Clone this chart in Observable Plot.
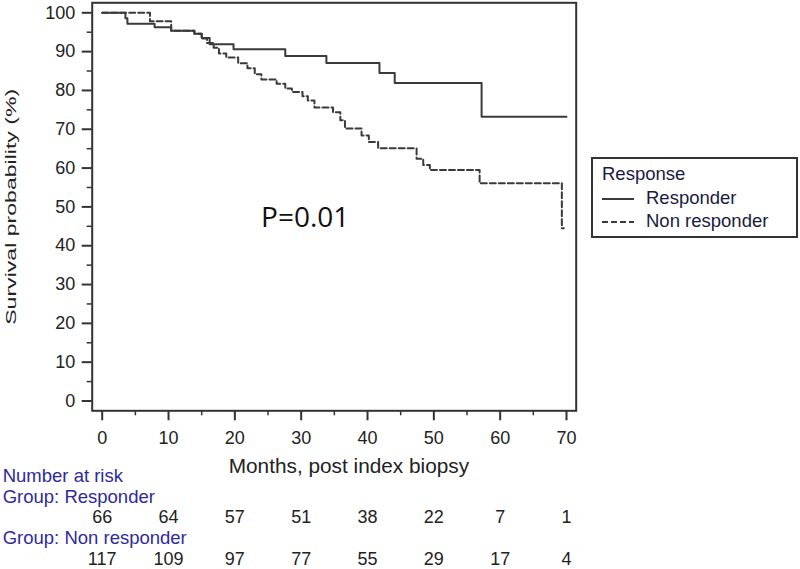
<!DOCTYPE html>
<html>
<head>
<meta charset="utf-8">
<script src="https://cdn.jsdelivr.net/npm/d3@7"></script>
<script src="https://cdn.jsdelivr.net/npm/@observablehq/plot@0.6"></script>
<style>
  html, body { margin: 0; padding: 0; background: #fff; }
  #wrap { position: relative; width: 800px; height: 569px; overflow: hidden; font-family: "Liberation Sans", Arial, sans-serif; }
  #legend { position: absolute; left: 591px; top: 157px; width: 203px; height: 77px; border: 2px solid #333; background: #fff; color: #1a1a40; font-size: 18.5px; }
  #legend .row { position: absolute; left: 9px; white-space: nowrap; line-height: 20px; }
  #legend svg { vertical-align: middle; margin-right: 12px; }
</style>
</head>
<body>
<div id="wrap"></div>
<script>
// ---- data ----
const riskTimes = [0, 10, 20, 30, 40, 50, 60, 70];
const riskResponder = [66, 64, 57, 51, 38, 22, 7, 1];
const riskNonResponder = [117, 109, 97, 77, 55, 29, 17, 4];

const respTime = [0, 3.5, 3.8, 7.9, 10.4, 13.9, 15.0, 16.2, 19.8, 27.6, 33.8, 41.8, 44.1, 57.2, 70];
const respSurv = [100, 98.6, 97.2, 96.3, 95.4, 94.6, 93.5, 91.9, 90.6, 88.9, 87.1, 84.5, 81.9, 73.2, 73.2];

const nonTime = [0, 7.2, 10.4, 13.9, 15.0, 15.8, 16.8, 17.6, 18.7, 20.5, 21.9, 23.0, 24.0, 26.3, 27.6, 28.6, 30.2, 31.0, 32.0, 34.8, 35.9, 36.6, 39.1, 40.2, 41.6, 47.4, 48.4, 49.4, 56.9, 69.3, 69.6];
const nonSurv = [100, 97.8, 95.4, 94.6, 93.4, 92.2, 91.0, 89.5, 88.5, 87.0, 85.7, 84.2, 82.8, 81.7, 80.5, 79.6, 78.5, 77.4, 75.6, 74.4, 72.3, 70.2, 68.4, 66.7, 65.1, 62.4, 60.8, 59.5, 56.1, 44.5, 44.5];

const yTicks = [0, 10, 20, 30, 40, 50, 60, 70, 80, 90, 100];
const yMinor = [5, 15, 25, 35, 45, 55, 65, 75, 85, 95];
const xMinor = [5, 15, 25, 35, 45, 55, 65];

const xLabel = "Months, post index biopsy";
const yLabel = "Survival probability (%)";
const pValue = "P=0.01";
const pValuePos = {x: 30.6, y: 47.2};
const riskRows = ["Number at risk", "Group: Responder", "Group: Non responder"];

// ---- build ----
const resp = respTime.map((t, i) => ({t, s: respSurv[i]}));
const non = nonTime.map((t, i) => ({t, s: nonSurv[i]}));
const ink = "#333";
const txt = "#222";
const blue = "#2e2a9c";
const rowGap = 20.6;
const firstRow = 65.7;
const riskFont = 18.5;

const labelMark = (i, dy) => Plot.text(riskRows, {
  filter: (d, j) => j === i,
  frameAnchor: "bottom-left", dx: -89.5, dy,
  text: d => d, textAnchor: "start", lineAnchor: "middle",
  fontSize: riskFont, fill: blue
});
const countMark = (values, dy) => Plot.text(riskTimes, {
  x: d => d, frameAnchor: "bottom", dy,
  text: (d, i) => values[i], lineAnchor: "middle",
  fontSize: 18, fill: txt
});

const chart = Plot.plot({
  width: 800,
  height: 569,
  marginLeft: 91.7,
  marginRight: 224.3,
  marginTop: 2.3,
  marginBottom: 158.7,
  insetLeft: 10,
  insetRight: 9.7,
  insetTop: 10,
  insetBottom: 9.8,
  style: {fontFamily: "'Liberation Sans', Arial, sans-serif", background: "#fff", overflow: "visible"},
  x: {domain: [0, 70]},
  y: {domain: [0, 100]},
  marks: [
    Plot.axisY({ticks: yTicks, tickSize: 10, tickPadding: 7, tickFormat: d => d, label: null, fontSize: 18, stroke: ink, strokeWidth: 2, color: txt}),
    Plot.axisY({ticks: yMinor, tickSize: 5, text: null, label: null, stroke: ink, strokeWidth: 1.5}),
    Plot.axisX({ticks: riskTimes, tickSize: 10, tickPadding: 10, tickFormat: d => d, label: null, fontSize: 18, stroke: ink, strokeWidth: 2, color: txt}),
    Plot.axisX({ticks: xMinor, tickSize: 5, text: null, label: null, stroke: ink, strokeWidth: 1.5}),
    Plot.line(resp, {x: "t", y: "s", curve: "step-after", stroke: "#3a3a3a", strokeWidth: 2}),
    Plot.line(non, {x: "t", y: "s", curve: "step-after", stroke: "#3a3a3a", strokeWidth: 2, strokeDasharray: "6,3"}),
    Plot.frame({stroke: ink, strokeWidth: 2}),
    Plot.text([pValue], {x: () => pValuePos.x, y: () => pValuePos.y, text: d => d, fontSize: 28, fontFamily: "'Open Sans', sans-serif", fill: "#111", textAnchor: "middle", lineAnchor: "middle"}),
    Plot.text([yLabel], {frameAnchor: "left", dx: -81, rotate: -90, text: d => d, textAnchor: "middle", fontSize: 15, fill: txt, lineAnchor: "middle"}),
    Plot.text([xLabel], {frameAnchor: "bottom-left", dx: 136.5, dy: 56, text: d => d, textAnchor: "start", fontSize: 20.8, fill: txt, lineAnchor: "middle"}),
    labelMark(0, firstRow),
    labelMark(1, firstRow + rowGap),
    countMark(riskResponder, firstRow + 2 * rowGap),
    labelMark(2, firstRow + 3 * rowGap),
    countMark(riskNonResponder, firstRow + 4 * rowGap)
  ]
});

// stretch the rotated y label along its length (the reference draws it tall and thin)
d3.select(chart).selectAll("text").filter(function() { return this.textContent === yLabel; })
  .attr("textLength", 236).attr("lengthAdjust", "spacingAndGlyphs");

const wrap = document.getElementById("wrap");
wrap.appendChild(chart);

// legend
const legend = document.createElement("div");
legend.id = "legend";
function sample(dash) {
  return `<svg width="32" height="10"><line x1="0" x2="32" y1="5" y2="5" stroke="#3a3a3a" stroke-width="2" ${dash ? 'stroke-dasharray="6,3"' : ''}/></svg>`;
}
legend.innerHTML =
  `<div class="row" style="top:5px">Response</div>` +
  `<div class="row" style="top:29px">${sample(false)}Responder</div>` +
  `<div class="row" style="top:52px">${sample(true)}Non responder</div>`;
wrap.appendChild(legend);
</script>
</body>
</html>
